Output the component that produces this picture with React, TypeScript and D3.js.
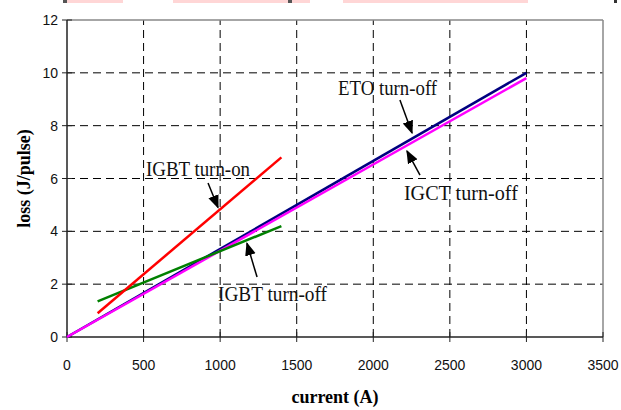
import React from "react";
import * as d3 from "d3";

// series endpoints: [current (A), loss (J/pulse)]
const etoTurnOff: [number, number][] = [[0, 0], [3000, 10]];
const igctTurnOff: [number, number][] = [[0, 0], [3000, 9.8]];
const igbtTurnOn: [number, number][] = [[200, 0.9], [1400, 6.8]];
const igbtTurnOff: [number, number][] = [[200, 1.35], [1400, 4.2]];

const xTicks = [0, 500, 1000, 1500, 2000, 2500, 3000, 3500];
const yTicks = [0, 2, 4, 6, 8, 10, 12];

// annotation text + arrow (tail -> head), in data units
const labels = [
  { text: "IGBT turn-on", at: [516, 6.09], len: 104, tail: [921, 5.83], head: [986, 4.9] },
  { text: "IGBT turn-off", at: [986, 1.36], len: 109, tail: [1241, 2.27], head: [1175, 3.55] },
  { text: "ETO turn-off", at: [1770, 9.16], len: 99, tail: [2174, 8.97], head: [2253, 7.72] },
  { text: "IGCT turn-off", at: [2200, 5.19], len: 114, tail: [2305, 6.13], head: [2220, 7.04] },
];

function Chart() {
  const width = 621;
  const height = 410;
  const left = 67;
  const right = 603;
  const top = 20;
  const bottom = 337;

  const x = d3.scaleLinear().domain([0, 3500]).range([left, right]);
  const y = d3.scaleLinear().domain([0, 12]).range([bottom, top]);

  const line = d3
    .line<[number, number]>()
    .x((d) => x(d[0]))
    .y((d) => y(d[1]));

  const series = [
    { pts: etoTurnOff, color: "#000080" },
    { pts: igctTurnOff, color: "#ff00ff" },
    { pts: igbtTurnOff, color: "#008000" },
    { pts: igbtTurnOn, color: "#ff0000" },
  ];

  return (
    <svg width={width} height={height} style={{ position: "absolute", left: 0, top: 0 }}>
      <defs>
        <marker id="arrow" viewBox="0 0 10 10" refX="9" refY="5" markerWidth="9" markerHeight="9" orient="auto">
          <path d="M0,1 L10,5 L0,9 z" fill="black" />
        </marker>
      </defs>
      <rect width={width} height={height} fill="white" />

      {/* cropped caption remnants */}
      <rect x={63} y={0} width={60} height={3} fill="#ffd6d6" />
      <rect x={173} y={0} width={137} height={3} fill="#ffd6d6" />
      <rect x={343} y={0} width={185} height={3} fill="#ffd6d6" />
      <rect x={63} y={0} width={4} height={3} fill="#555" />
      <rect x={288} y={0} width={4} height={3} fill="#555" />
      <rect x={614} y={0} width={3} height={3} fill="#333" />

      {/* grid */}
      <g stroke="black" strokeWidth={1} strokeDasharray="8,5">
        {xTicks.slice(1, -1).map((t) => (
          <line key={"gx" + t} x1={x(t)} x2={x(t)} y1={bottom} y2={top} />
        ))}
        {yTicks.slice(1, -1).map((t) => (
          <line key={"gy" + t} x1={left} x2={right} y1={y(t)} y2={y(t)} />
        ))}
      </g>

      {/* frame */}
      <line x1={left} x2={right} y1={top} y2={top} stroke="#888" strokeWidth={1.5} />
      <line x1={right} x2={right} y1={top} y2={bottom} stroke="#888" strokeWidth={1.5} />
      <line x1={left} x2={left} y1={top} y2={bottom} stroke="#222" strokeWidth={1.5} />
      <line x1={left} x2={right} y1={bottom} y2={bottom} stroke="#222" strokeWidth={1.5} />

      {/* ticks */}
      <g stroke="#222" strokeWidth={1}>
        {xTicks.map((t) => (
          <line key={"tx" + t} x1={x(t)} x2={x(t)} y1={bottom - 5} y2={bottom + 5} />
        ))}
        {yTicks.map((t) => (
          <line key={"ty" + t} x1={left - 5} x2={left + 5} y1={y(t)} y2={y(t)} />
        ))}
      </g>
      <g fontFamily="Liberation Sans, Arial, sans-serif" fontSize={14} fill="#111">
        {xTicks.map((t) => (
          <text key={"lx" + t} x={x(t)} y={bottom + 33} textAnchor="middle">
            {t}
          </text>
        ))}
        {yTicks.map((t) => (
          <text key={"ly" + t} x={left - 9} y={y(t) + 5} textAnchor="end">
            {t}
          </text>
        ))}
      </g>

      {/* series */}
      {series.map((s, i) => (
        <path key={i} d={line(s.pts) ?? ""} fill="none" stroke={s.color} strokeWidth={2.5} />
      ))}

      {/* annotations */}
      <g fontFamily="Liberation Serif, Times New Roman, serif" fontSize={22} fill="#111">
        {labels.map((l) => (
          <g key={l.text}>
            <line
              x1={x(l.tail[0])}
              y1={y(l.tail[1])}
              x2={x(l.head[0])}
              y2={y(l.head[1])}
              stroke="black"
              strokeWidth={1.5}
              markerEnd="url(#arrow)"
            />
            <text x={x(l.at[0])} y={y(l.at[1])} textLength={l.len} lengthAdjust="spacingAndGlyphs">
              {l.text}
            </text>
          </g>
        ))}
      </g>

      {/* axis titles */}
      <text
        x={(left + right) / 2}
        y={403}
        textAnchor="middle"
        fontFamily="Liberation Serif, Times New Roman, serif"
        fontWeight="bold"
        fontSize={18}
      >
        current (A)
      </text>
      <text
        transform={`translate(30, ${(top + bottom) / 2}) rotate(-90)`}
        textAnchor="middle"
        fontFamily="Liberation Serif, Times New Roman, serif"
        fontWeight="bold"
        fontSize={18}
      >
        loss (J/pulse)
      </text>
    </svg>
  );
}

export default function App() {
  return <Chart />;
}
